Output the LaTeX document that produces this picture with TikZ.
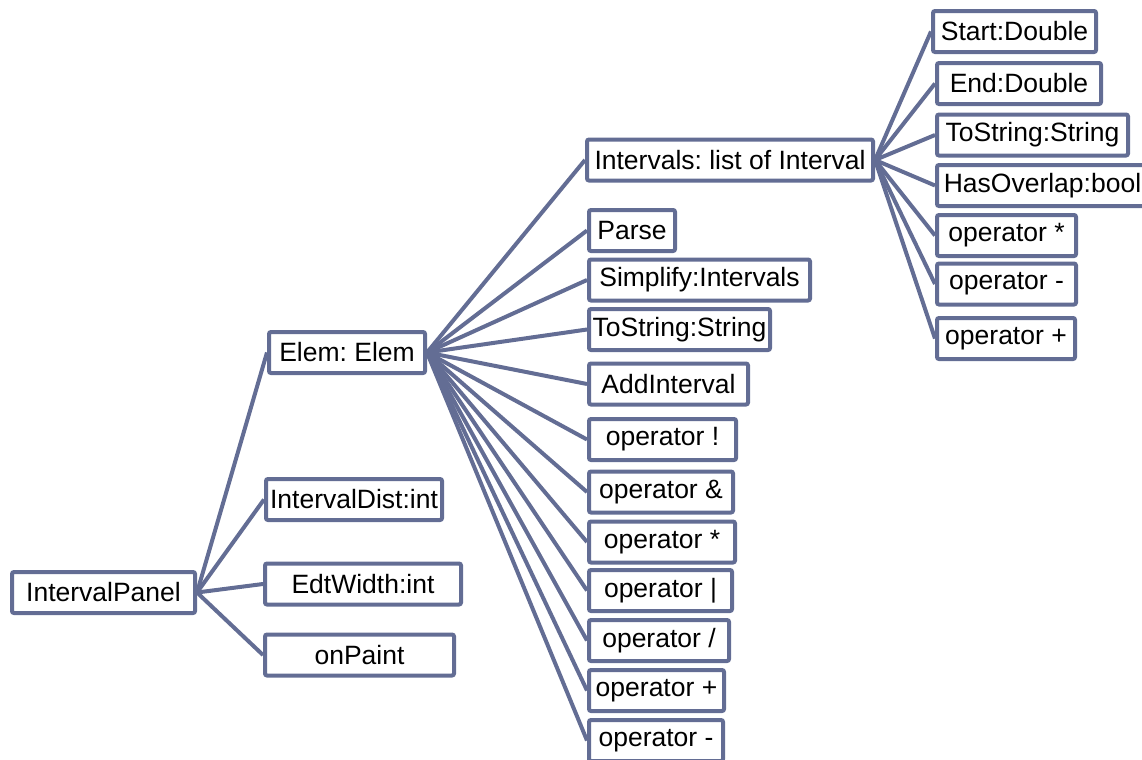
\documentclass[tikz,border=0pt]{standalone}
\usepackage{fontspec}
\setmainfont{Liberation Sans}
\frenchspacing
\definecolor{linecol}{RGB}{99,109,148}
\begin{document}
\begin{tikzpicture}[x=0.5pt,y=-0.5pt,every node/.style={draw=linecol,line width=2pt,rounded corners=1pt,fill=white,font=\fontsize{13.25}{15}\selectfont,minimum height=20.5pt,inner sep=1pt}]
\useasboundingbox (0,0) rectangle (1142,760);
\node[minimum width=91.5pt] (ip) at (103.5,592.5) {IntervalPanel};
\node[minimum width=78pt] (el) at (347,352.5) {Elem: Elem};
\node[minimum width=88pt] (id) at (354,499.5) {IntervalDist:int};
\node[minimum width=98pt] (ew) at (363,584) {EdtWidth:int};
\node[minimum width=94.5pt] (op) at (359.5,655) {onPaint};
% Elem members
\node[minimum width=143pt] (ivs) at (730,160) {Intervals: list of Interval};
\node[minimum width=43pt] (prs) at (632,230.5) {Parse};
\node[minimum width=110.5pt] (smp) at (699.5,280) {Simplify:Intervals};
\node[minimum width=90.5pt] (tos) at (679.5,329.5) {ToString:String};
\node[minimum width=79.5pt] (add) at (668.5,384) {AddInterval};
\node[minimum width=73.5pt] (onot) at (662.5,439.5) {operator !};
\node[minimum width=72pt] (oand) at (661,492) {operator \&};
\node[minimum width=73pt] (omul) at (662,542) {operator *};
\node[minimum width=71.5pt] (oor) at (660.5,590.5) {operator |};
\node[minimum width=70pt] (odiv) at (659,640.5) {operator /};
\node[minimum width=67.5pt] (oadd) at (656.5,690.5) {operator +};
\node[minimum width=67pt] (osub) at (656,740.5) {operator -};
% Interval members
\node[minimum width=81.5pt] (st) at (1014.5,31.5) {Start:Double};
\node[minimum width=82pt] (en) at (1019,83.5) {End:Double};
\node[minimum width=95.5pt] (tos2) at (1032.5,135) {ToString:String};
\node[minimum width=105.5pt] (ho) at (1042.5,185.5) {HasOverlap:bool};
\node[minimum width=69.5pt] (imul) at (1006.5,235.5) {operator *};
\node[minimum width=69.5pt] (isub) at (1006.5,284) {operator -};
\node[minimum width=69pt] (iadd) at (1006,338.5) {operator +};
\foreach \u/\v in {ip/el,ip/id,ip/ew,ip/op,
  el/ivs,el/prs,el/smp,el/tos,el/add,el/onot,el/oand,el/omul,el/oor,el/odiv,el/oadd,el/osub,
  ivs/st,ivs/en,ivs/tos2,ivs/ho,ivs/imul,ivs/isub,ivs/iadd}
  \draw[linecol,line width=2pt] (\u.east)--(\v.west);
\end{tikzpicture}
\end{document}
